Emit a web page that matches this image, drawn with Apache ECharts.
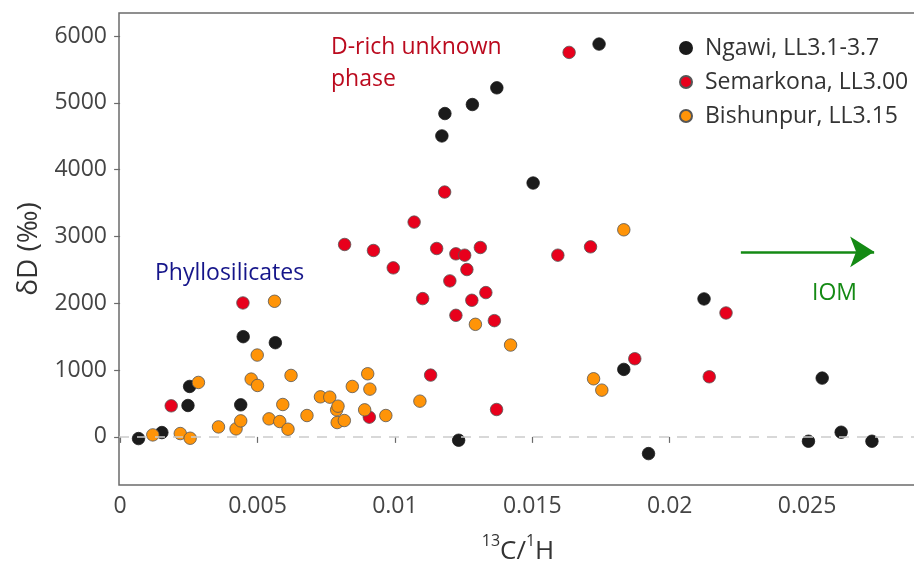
<!DOCTYPE html>
<html>
<head>
<meta charset="utf-8">
<script src="https://cdn.jsdelivr.net/npm/echarts@6/dist/echarts.min.js"></script>
<style>
  html, body { margin: 0; padding: 0; background: #fff; }
  #chart { width: 914px; height: 566px; }
</style>
</head>
<body>
<div id="chart"></div>
<script>
// [13C/1H, dD permil]
const ngawi = [
  [0.00067, -25], [0.00152, 65], [0.00247, 470], [0.00253, 755], [0.00439, 480],
  [0.00448, 1500], [0.00565, 1410], [0.01171, 4505], [0.01182, 4840], [0.01282, 4975],
  [0.01371, 5225], [0.01743, 5880], [0.01503, 3800], [0.01232, -50], [0.01833, 1010],
  [0.01923, -250], [0.02125, 2065], [0.02555, 880], [0.02505, -65], [0.02624, 70],
  [0.02736, -65]
]
const semarkona = [
  [0.00186, 465], [0.00447, 2005], [0.00817, 2880], [0.00922, 2790], [0.00994, 2530],
  [0.00907, 295], [0.01070, 3215], [0.01181, 3665], [0.01152, 2820], [0.01222, 2740],
  [0.01254, 2720], [0.01311, 2835], [0.01262, 2505], [0.01200, 2335], [0.01101, 2070],
  [0.01280, 2045], [0.01331, 2160], [0.01222, 1820], [0.01362, 1740], [0.01130, 925],
  [0.01370, 410], [0.01593, 2720], [0.01712, 2845], [0.01634, 5755], [0.01873, 1170],
  [0.02205, 1855], [0.02144, 900]
]
const bishunpur = [
  [0.00119, 30], [0.00219, 50], [0.00255, -20], [0.00285, 815], [0.00358, 150],
  [0.00422, 120], [0.00439, 240], [0.00477, 865], [0.00499, 1225], [0.00500, 770],
  [0.00542, 270], [0.00562, 2030], [0.00581, 230], [0.00592, 485], [0.00611, 115],
  [0.00622, 920], [0.00680, 320], [0.00729, 600], [0.00763, 595], [0.00788, 405],
  [0.00793, 460], [0.00790, 215], [0.00816, 245], [0.00845, 755], [0.00890, 405],
  [0.00901, 945], [0.00909, 715], [0.00967, 320], [0.01091, 535], [0.01293, 1685],
  [0.01421, 1375], [0.01723, 870], [0.01753, 700], [0.01833, 3100]
]
const seriesNames = ['Ngawi, LL3.1-3.7', 'Semarkona, LL3.00', 'Bishunpur, LL3.15']
const xTicks = [0, 0.005, 0.01, 0.015, 0.02, 0.025]
const yTicks = [0, 1000, 2000, 3000, 4000, 5000, 6000]
const iomArrow = [[0.02259, 2770], [0.02744, 2770]]

const font = '"Open Sans", "DejaVu Sans", sans-serif'
const chart = echarts.init(document.getElementById('chart'))

function pointSeries(name, data, color, border) {
  return {
    name: name,
    type: 'scatter',
    data: data,
    symbolSize: 12.5,
    itemStyle: { color: color, borderColor: border, borderWidth: 0.8, opacity: 1 },
    emphasis: { disabled: true },
    z: 3
  }
}

chart.setOption({
  animation: false,
  textStyle: { fontFamily: font },
  grid: {
    left: 119, top: 13, right: -3, bottom: 81,
    outerBoundsMode: 'none',
    containLabel: false,
    show: true, borderColor: '#6b6b6b', borderWidth: 1.5
  },
  legend: {
    orient: 'vertical',
    left: 674, top: 31,
    itemWidth: 12, itemHeight: 12, itemGap: 10,
    icon: 'circle',
    data: seriesNames,
    textStyle: { fontSize: 23, color: '#333', fontFamily: font, lineHeight: 24, padding: [0, 0, 0, 8] }
  },
  xAxis: {
    type: 'value',
    min: -0.00004, max: 0.029,
    name: '{sup|13}{n|C/}{sup|1}{n|H}',
    nameLocation: 'middle',
    nameGap: 48,
    nameTextStyle: {
      rich: {
        n: { fontSize: 26, color: '#333', fontFamily: font, lineHeight: 32, verticalAlign: 'bottom' },
        sup: { fontSize: 16, color: '#333', fontFamily: font, lineHeight: 32, verticalAlign: 'top' }
      }
    },
    axisLine: { show: false },
    axisTick: { show: true, length: 6, lineStyle: { color: '#6b6b6b', width: 1.2 }, customValues: xTicks },
    axisLabel: { fontSize: 23, color: '#444', margin: 10, customValues: xTicks, formatter: v => String(v) },
    splitLine: { show: false }
  },
  yAxis: {
    type: 'value',
    min: -720, max: 6345,
    name: 'δD (‰)',
    nameLocation: 'middle',
    nameGap: 76,
    nameRotate: 90,
    nameTextStyle: { fontSize: 28, color: '#333', fontFamily: font },
    axisLine: { show: false },
    axisTick: { show: true, length: 6, lineStyle: { color: '#6b6b6b', width: 1.2 }, customValues: yTicks },
    axisLabel: { fontSize: 23, color: '#444', margin: 12, customValues: yTicks, formatter: v => String(v) },
    splitLine: { show: false }
  },
  series: [
    {
      type: 'line',
      data: [],
      silent: true,
      z: 1,
      markLine: {
        silent: true,
        symbol: ['none', 'none'],
        label: { show: false },
        lineStyle: { color: '#cccccc', width: 1.5, type: [10, 8] },
        data: [{ yAxis: 0 }]
      }
    },
    {
      type: 'line',
      data: [],
      silent: true,
      z: 2,
      markLine: {
        silent: true,
        symbol: ['none', 'arrow'],
        symbolSize: [23, 24],
        label: { show: false },
        lineStyle: { color: '#148a14', width: 2.5, type: 'solid' },
        data: [[{ coord: iomArrow[0] }, { coord: iomArrow[1] }]]
      }
    },
    pointSeries(seriesNames[0], ngawi, '#1b1b1b', '#1b1b1b'),
    pointSeries(seriesNames[1], semarkona, '#e8001c', '#555'),
    pointSeries(seriesNames[2], bishunpur, '#ff9408', '#555')
  ],
  graphic: [
    { type: 'text', left: 331, top: 31, style: { text: 'D-rich unknown\nphase', fill: '#bb0a1e', font: '23px ' + font, lineHeight: 32 } },
    { type: 'text', left: 155, top: 258, style: { text: 'Phyllosilicates', fill: '#15158a', font: '23px ' + font, lineHeight: 30 } },
    { type: 'text', left: 812, top: 278, style: { text: 'IOM', fill: '#148a14', font: '23px ' + font, lineHeight: 30 } }
  ]
})
</script>
</body>
</html>
